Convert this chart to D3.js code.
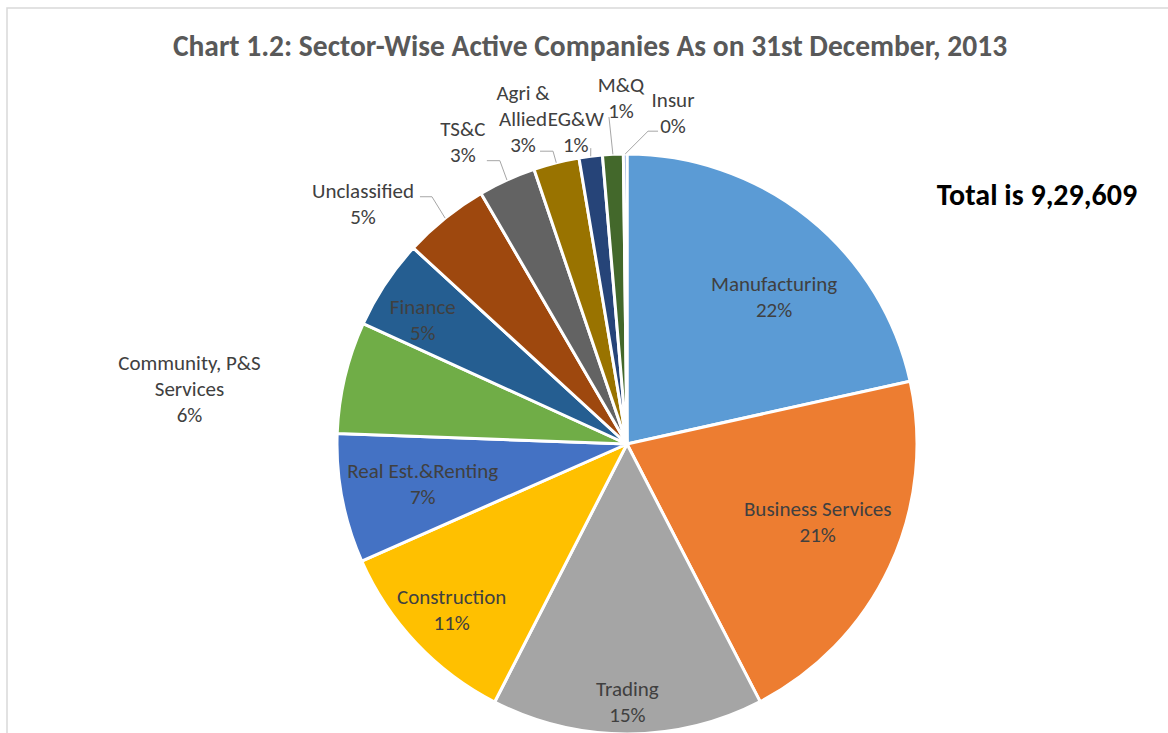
<!DOCTYPE html>
<head>
    <script src="https://d3js.org/d3.v7.min.js"></script>
    <style>
        body { margin: 0; background: #fff; }
        text { font-family: Carlito, Lato, sans-serif; }
    </style>
</head>
<body>
<svg></svg>
</body>

<script>
    // Data (shares in %)
    var sectors = ["Manufacturing", "Business Services", "Trading", "Construction", "Real Est.&Renting",
        "Community, P&S Services", "Finance", "Unclassified", "TS&C", "Agri & Allied", "EG&W", "M&Q", "Insur"];
    var shares = [21.55, 20.9, 15.15, 10.85, 7.2, 6.25, 5.0, 4.8, 3.2, 2.55, 1.3, 1.15, 0.2];
    var colors = ["#5B9BD5", "#ED7D31", "#A5A5A5", "#FFC000", "#4472C4", "#70AD47", "#255E91",
        "#9E480E", "#636363", "#997300", "#264478", "#43682B", "#698ED0"];
    var titleText = "Chart 1.2: Sector-Wise Active Companies As on 31st December, 2013";
    var totalText = "Total is 9,29,609";

    // label text lines (how Excel wrapped them)
    var labelLines = {
        "Community, P&S Services": ["Community, P&S", "Services"],
        "Agri & Allied": ["Agri &", "Allied"]
    };

    // label placement: radius / angle (deg) from centre, leader end offset
    var labelLayout = {
        "Manufacturing": {r: 208, a: 45},
        "Business Services": {r: 206, a: 112.2},
        "Trading": {r: 258},
        "Construction": {r: 241},
        "Real Est.&Renting": {r: 208},
        "Community, P&S Services": {r: 441, a: 277.2},
        "Finance": {r: 239, a: 301.3},
        "Unclassified": {r: 357, a: 312.3, leader: [57, -7, 12]},
        "TS&C": {r: 344, a: 331.5, leader: [24, 19, 13]},
        "Agri & Allied": {r: 342, a: 342.3, leader: [17, 33, 13]},
        "EG&W": {r: 317, a: 350.7, leader: [15, 17, 0]},
        "M&Q": {r: 346, a: 359.0, leader: [-12, 19, 0]},
        "Insur": {r: 335, a: 7.9, leader: [-15, 19, -10]}
    };

    var width = 1168;
    var height = 733;
    var cx = 627, cy = 444;
    var radius = 290;
    var lineH = 26;

    var data = sectors.map(function (s, i) { return {name: s, value: shares[i], color: colors[i]}; });
    var total = d3.sum(shares);
    var pct = d3.format(".0%");

    var svg = d3.select('svg')
        .attr('width', width)
        .attr('height', height);

    // chart area border
    svg.append('rect')
        .attr('x', 7).attr('y', 8)
        .attr('width', 1300).attr('height', 900)
        .attr('fill', 'none')
        .attr('stroke', '#d9d9d9')
        .attr('stroke-width', 1.5);

    svg.append('text')
        .attr('x', 590).attr('y', 56)
        .attr('text-anchor', 'middle')
        .style('font-size', '29.5px')
        .style('font-weight', 'bold')
        .style('fill', '#595959')
        .text(titleText);

    svg.append('text')
        .attr('x', 1037).attr('y', 205)
        .attr('text-anchor', 'middle')
        .style('font-size', '30px')
        .style('font-weight', 'bold')
        .style('fill', '#000')
        .text(totalText);

    var g = svg.append('g')
        .attr('transform', 'translate(' + cx + ',' + cy + ')');

    var pie = d3.pie()
        .sort(null)
        .value(function (d) { return d.value; });

    var arc = d3.arc()
        .innerRadius(0)
        .outerRadius(radius);

    var arcs = pie(data);

    g.selectAll('path')
        .data(arcs)
        .enter().append('path')
        .attr('d', arc)
        .style('fill', function (d) { return d.data.color; })
        .style('stroke', '#fff')
        .style('stroke-width', 3)
        .style('stroke-linejoin', 'round');

    function polar(r, a) {
        return [r * Math.sin(a), -r * Math.cos(a)];
    }

    // labels
    arcs.forEach(function (d) {
        var lay = labelLayout[d.data.name];
        var mid = (d.startAngle + d.endAngle) / 2;
        var ang = lay.a !== undefined ? lay.a * Math.PI / 180 : mid;
        var p = polar(lay.r, ang);
        var lines = (labelLines[d.data.name] || [d.data.name]).concat([pct(d.data.value / total)]);

        var t = g.append('text')
            .attr('text-anchor', 'middle')
            .style('font-size', '21px')
            .style('fill', '#404040');
        lines.forEach(function (l, i) {
            t.append('tspan')
                .attr('x', p[0])
                .attr('y', p[1] + (i - (lines.length - 1) / 2) * lineH)
                .attr('dy', '0.35em')
                .text(l);
        });

        if (lay.leader) {
            var end = [p[0] + lay.leader[0], p[1] + lay.leader[1]];
            var pts = [end];
            if (lay.leader[2]) pts.push([end[0] + lay.leader[2], end[1]]);
            pts.push(polar(radius, mid));
            g.append('path')
                .attr('d', d3.line()(pts))
                .attr('fill', 'none')
                .attr('stroke', '#a6a6a6')
                .attr('stroke-width', 1);
        }
    });
</script>
